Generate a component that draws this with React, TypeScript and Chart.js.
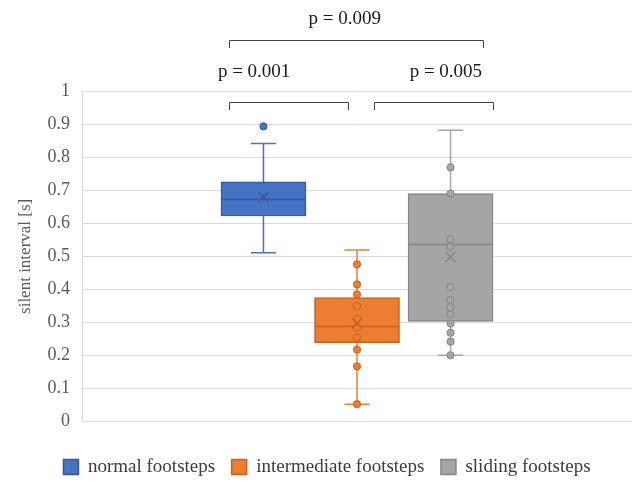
import React, { useEffect, useRef } from 'react';
import { Chart, registerables } from 'chart.js';

Chart.register(...registerables);

// ---------- data ----------
const seriesNames = ['normal footsteps', 'intermediate footsteps', 'sliding footsteps'];
const seriesX = [0, 1, 2];
const q1Values = [0.622, 0.239, 0.303];
const q3Values = [0.725, 0.375, 0.69];
const medianValues = [0.672, 0.288, 0.536];
const lowerWhiskers = [0.511, 0.053, 0.201];
const upperWhiskers = [0.841, 0.519, 0.881];
const meanValues = [0.68, 0.297, 0.498];
const normalPoints = [0.893];
const intermediatePoints = [0.476, 0.415, 0.385, 0.35, 0.312, 0.285, 0.254, 0.218, 0.167, 0.053];
const slidingPoints = [0.769, 0.69, 0.551, 0.529, 0.408, 0.368, 0.346, 0.325, 0.297, 0.269, 0.242, 0.201];
const seriesPoints = [normalPoints, intermediatePoints, slidingPoints];

// significance annotations
const pLabels = ['p = 0.001', 'p = 0.005', 'p = 0.009'];
const bracketFrom = [-0.366, 1.182, -0.366];
const bracketTo = [0.9, 2.458, 2.351];
const bracketLevel = [0.967, 0.967, 1.153];
const pLabelX = [-0.1, 1.95, 0.87];
const pLabelLevel = [1.042, 1.042, 1.2015];

// ---------- styles ----------
const fillColors = ['#4472C4', '#ED7D31', '#A5A5A5'];
const edgeColors = ['#35599c', '#c4621f', '#858585'];
const serif = "'Liberation Serif', 'Times New Roman', serif";

const boxExtras = {
  id: 'boxExtras',
  afterLayout(chart: any) {
    const lg = chart.legend;
    if (lg) {
      lg.left += 22;
      lg.top += 4.5;
      lg.bottom += 4.5;
    }
  },
  beforeDatasetsDraw(chart: any) {
    const { ctx, scales } = chart;
    const x = scales.x;
    const y = scales.y;
    ctx.save();
    seriesX.forEach((sx, i) => {
      const px = x.getPixelForValue(sx);
      ctx.strokeStyle = fillColors[i];
      ctx.lineWidth = 1.5;
      ctx.beginPath();
      ctx.moveTo(px, y.getPixelForValue(q3Values[i]));
      ctx.lineTo(px, y.getPixelForValue(upperWhiskers[i]));
      ctx.moveTo(px, y.getPixelForValue(q1Values[i]));
      ctx.lineTo(px, y.getPixelForValue(lowerWhiskers[i]));
      [upperWhiskers[i], lowerWhiskers[i]].forEach((v) => {
        const py = y.getPixelForValue(v);
        ctx.moveTo(px - 12.5, py);
        ctx.lineTo(px + 12.5, py);
      });
      ctx.stroke();
    });
    ctx.restore();
  },
  afterDatasetDraw(chart: any, args: any) {
    if (args.meta.type !== 'bar') return;
    const i = args.index;
    const el = args.meta.data[0];
    if (!el) return;
    const { x: bx, width } = el.getProps(['x', 'width'], true);
    const py = chart.scales.y.getPixelForValue(medianValues[i]);
    const ctx = chart.ctx;
    ctx.save();
    ctx.strokeStyle = edgeColors[i];
    ctx.lineWidth = 1.5;
    ctx.beginPath();
    ctx.moveTo(bx - width / 2, py);
    ctx.lineTo(bx + width / 2, py);
    ctx.stroke();
    ctx.restore();
  },
  afterDraw(chart: any) {
    const { ctx, scales } = chart;
    const x = scales.x;
    const y = scales.y;
    ctx.save();
    ctx.strokeStyle = '#404040';
    ctx.lineWidth = 1;
    pLabels.forEach((label, i) => {
      const x1 = Math.round(x.getPixelForValue(bracketFrom[i])) + 0.5;
      const x2 = Math.round(x.getPixelForValue(bracketTo[i])) + 0.5;
      const by = Math.round(y.getPixelForValue(bracketLevel[i])) + 0.5;
      ctx.beginPath();
      ctx.moveTo(x1, by + 7.5);
      ctx.lineTo(x1, by);
      ctx.lineTo(x2, by);
      ctx.lineTo(x2, by + 7.5);
      ctx.stroke();
      ctx.fillStyle = '#1a1a1a';
      ctx.font = `19px ${serif}`;
      ctx.textAlign = 'center';
      ctx.textBaseline = 'alphabetic';
      ctx.fillText(label, x.getPixelForValue(pLabelX[i]), y.getPixelForValue(pLabelLevel[i]));
    });
    ctx.restore();
  },
};

export default function App() {
  const canvasRef = useRef<HTMLCanvasElement | null>(null);

  useEffect(() => {
    const canvas = canvasRef.current;
    if (!canvas) return;

    const boxDatasets = seriesNames.map((name, i) => ({
      type: 'bar' as const,
      label: name,
      data: [{ x: seriesX[i], y: [q1Values[i], q3Values[i]] }],
      backgroundColor: fillColors[i],
      borderColor: edgeColors[i],
      borderWidth: 1.5,
      borderSkipped: false,
      barThickness: 85,
      grouped: false,
      order: 2,
    }));

    const pointDatasets = seriesPoints.map((pts, i) => ({
      type: 'scatter' as const,
      label: seriesNames[i] + ' points',
      data: pts.map((v) => ({ x: seriesX[i], y: v })),
      backgroundColor: fillColors[i],
      borderColor: edgeColors[i],
      borderWidth: 1,
      pointRadius: 3.6,
      order: 1,
    }));

    const meanDataset = {
      type: 'scatter' as const,
      label: 'mean',
      data: meanValues.map((v, i) => ({ x: seriesX[i], y: v })),
      pointStyle: 'crossRot',
      pointRadius: 7,
      borderColor: edgeColors,
      backgroundColor: edgeColors,
      borderWidth: 1.5,
      order: 0,
    };

    const chart = new Chart(canvas, {
      type: 'bar',
      data: { datasets: [...boxDatasets, ...pointDatasets, meanDataset] as any },
      plugins: [boxExtras],
      options: {
        responsive: false,
        animation: false,
        layout: { autoPadding: false, padding: { top: 91, left: 0, right: 0, bottom: 0 } },
        scales: {
          x: {
            type: 'linear',
            min: -1.94,
            max: 3.94,
            offset: false,
            display: true,
            grid: { display: false },
            border: { display: false },
            ticks: { display: false },
            afterFit: (s: any) => {
              s.height = 14.8;
            },
          },
          y: {
            type: 'linear',
            min: 0,
            max: 1,
            ticks: {
              stepSize: 0.1,
              color: '#595959',
              padding: 12,
              font: { family: serif, size: 18 },
              callback: (v: any) => String(Math.round(Number(v) * 10) / 10),
            },
            grid: { color: '#d9d9d9', lineWidth: 1, drawTicks: false },
            border: { display: true, color: '#d9d9d9' },
            title: {
              display: true,
              text: 'silent interval [s]',
              color: '#595959',
              font: { family: serif, size: 17 },
              padding: { top: 15, bottom: 0 },
            },
            afterFit: (s: any) => {
              s.width = 82;
            },
          },
        },
        plugins: {
          legend: {
            position: 'bottom',
            labels: {
              color: '#3b3b3b',
              font: { family: serif, size: 19 },
              boxWidth: 15,
              boxHeight: 15,
              padding: 16.5,
              filter: (item: any) => item.datasetIndex < 3,
            },
          },
          tooltip: { enabled: false },
        },
      } as any,
    });

    return () => chart.destroy();
  }, []);

  return (
    <div style={{ position: 'fixed', left: 0, top: 0, width: 632, height: 482, overflow: 'hidden', background: '#fff' }}>
      <canvas ref={canvasRef} width={632} height={482} />
    </div>
  );
}
